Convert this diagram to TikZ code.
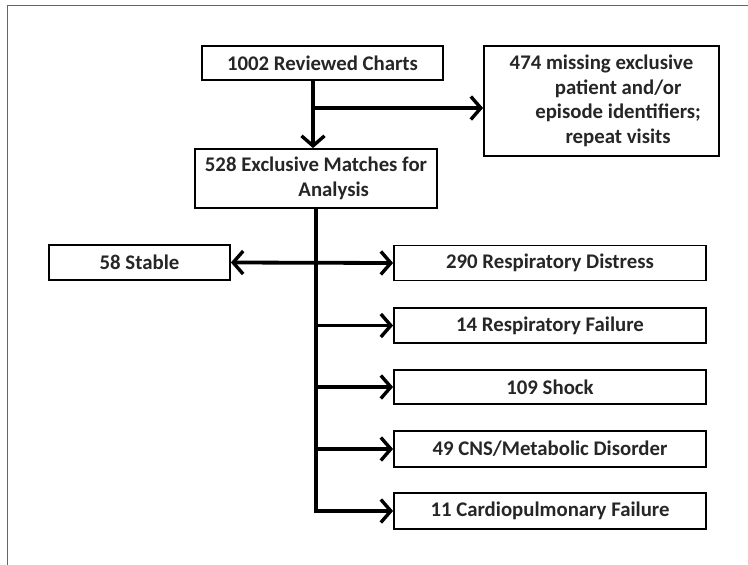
\documentclass[tikz,border=0pt]{standalone}
\usepackage{fontspec}
\setmainfont{Carlito}
\usetikzlibrary{arrows.meta}
\tikzset{barbtip/.tip={Straight Barb[length=10pt,width=23pt,line width=3.4pt]}}
\begin{document}
\begin{tikzpicture}[x=1pt,y=-1pt,
  box/.style={draw=black,line width=1.8pt,fill=white,inner sep=0pt,
    font=\fontsize{20.8}{24.5}\selectfont\bfseries,align=center,text=black!85},
  conn/.style={line width=3.8pt,-barbtip},
  bconn/.style={line width=3.8pt,barbtip-barbtip},
  frame/.style={draw=black!60,line width=1pt}]
\useasboundingbox (0,0) rectangle (748,565);
\coordinate (f0) at (7,5);
\coordinate (f1) at (748,5);
\coordinate (f2) at (7,565);
\draw[frame] (f1) -- (f0) -- (f2);

\node[box,minimum width=241pt,minimum height=34pt] (rc) at (322.5,63) {1002 Reviewed Charts};
\node[box,minimum width=235pt,minimum height=110pt] (miss) at (601.5,101)
  {474 missing exclusive\\\hspace*{1.6em}patient and/or\\\hspace*{1.6em}episode identifiers;\\\hspace*{1.6em}repeat visits};
\node[box,minimum width=242pt,minimum height=59pt] (ex) at (316,178.5)
  {528 Exclusive Matches for\\\hspace*{1.7em}Analysis};
\node[box,minimum width=181pt,minimum height=35pt] (st) at (139.5,262.5) {58 Stable};
\node[box,minimum width=312pt,minimum height=35pt] (rd) at (550,263) {290 Respiratory Distress};
\node[box,minimum width=312pt,minimum height=35pt] (rf) at (550,325.5) {14 Respiratory Failure};
\node[box,minimum width=312pt,minimum height=34pt] (sh) at (550,387) {109 Shock};
\node[box,minimum width=312pt,minimum height=36pt] (cns) at (550,449) {49 CNS/Metabolic Disorder};
\node[box,minimum width=312pt,minimum height=36pt] (cp) at (550,511) {11 Cardiopulmonary Failure};

\coordinate (j1) at (313,108);
\coordinate (t) at (316,0);
\draw[line width=3.8pt] (rc.south -| j1) -- (j1);
\draw[conn] (j1) -- (ex.north -| j1);
\draw[conn] (j1) -- (miss.west |- j1);
\draw[line width=3.8pt,line join=miter] (ex.south -| t) -- (cp.west -| t) -- ++(10,0);
\draw[conn] (cp.west -| t) -- (cp.west);
\draw[bconn] (st.east) -- (rd.west);
\draw[conn] (rf.west -| t) -- (rf.west);
\draw[conn] (sh.west -| t) -- (sh.west);
\draw[conn] (cns.west -| t) -- (cns.west);
\end{tikzpicture}
\end{document}
